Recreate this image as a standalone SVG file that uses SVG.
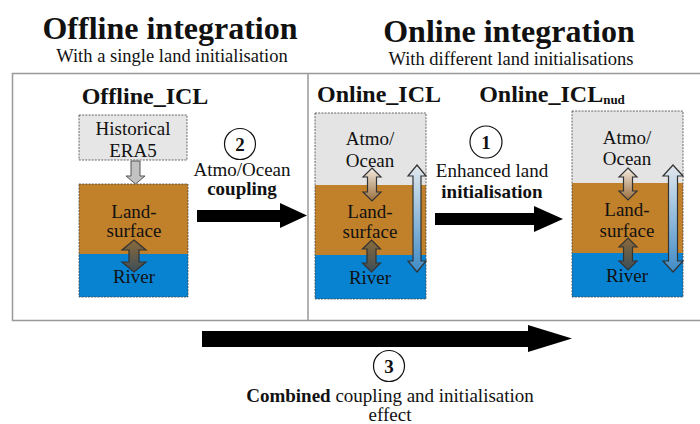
<svg xmlns="http://www.w3.org/2000/svg" width="700" height="424" viewBox="0 0 700 424">
<defs>
<style>
text{font-family:"Liberation Serif","Times New Roman",serif;fill:#111}
.title{font-size:32px;font-weight:bold;text-anchor:middle}
.sub{font-size:18.5px;text-anchor:middle}
.name{font-size:24px;font-weight:bold;text-anchor:middle}
.lbl{font-size:19px;text-anchor:middle}
.b{font-weight:bold}
.frame{fill:none;stroke:#999;stroke-width:1.5}
.box{stroke:#444;stroke-width:0.8;stroke-dasharray:2 1.2}
.atmo{fill:#e4e4e4}
.land{fill:#c1802a}
.river{fill:#0883d1}
.circ{fill:#fff;stroke:#111;stroke-width:1.2}
.big{fill:#000}
.dbl{stroke:#333;stroke-width:1.2}
</style>
<linearGradient id="gAL" x1="0" y1="0" x2="0" y2="1">
<stop offset="0" stop-color="#f4ece2"/><stop offset="1" stop-color="#9b6e3c"/>
</linearGradient>
<linearGradient id="gLR" x1="0" y1="0" x2="0" y2="1">
<stop offset="0" stop-color="#8c6a3a"/><stop offset="1" stop-color="#3c4e58"/>
</linearGradient>
<linearGradient id="gLong" x1="0" y1="0" x2="0" y2="1">
<stop offset="0" stop-color="#e2e8ee"/><stop offset="1" stop-color="#3f8bc6"/>
</linearGradient>
</defs>

<g id="headers">
<text class="title" x="170" y="39">Offline integration</text>
<text class="sub" x="172" y="62">With a single land initialisation</text>
<text class="title" x="509" y="42">Online integration</text>
<text class="sub" x="511" y="65">With different land initialisations</text>
</g>

<g id="frame">
<path class="frame" d="M700,73.5 H12.5 V320.5 H700"/>
<line class="frame" x1="308" y1="73.5" x2="308" y2="320.5"/>
</g>

<g id="offline">
<text class="name" x="145" y="104">Offline_ICL</text>
<rect class="box" x="79" y="115" width="108" height="45" fill="#e6e6e6"/>
<text class="lbl" x="133" y="135">Historical</text>
<text class="lbl" x="133" y="157">ERA5</text>
<path d="M131,161 H140 V176 H145 L135.5,184 L126,176 H131 Z" fill="#c2c2c2" stroke="#555" stroke-width="1"/>
<rect class="land" x="79" y="184" width="109" height="70"/>
<rect class="river" x="79" y="254" width="109" height="43"/>
<rect class="box" x="79" y="184" width="109" height="113" fill="none"/>
<text class="lbl" x="134" y="218">Land-</text>
<text class="lbl" x="134" y="237">surface</text>
<text class="lbl" x="134" y="283">River</text>
<path class="dbl" fill="url(#gLR)" d="M134,240 L146,250 H139 V262 H146 L134,272 L122,262 H129 V250 H122 Z"/>
</g>

<g id="online">
<text class="name" x="379" y="102">Online_ICL</text>
<rect class="atmo" x="315" y="113" width="111" height="72"/>
<rect class="land" x="315" y="185" width="111" height="70"/>
<rect class="river" x="315" y="255" width="111" height="44"/>
<rect class="box" x="315" y="113" width="111" height="186" fill="none"/>
<text class="lbl" x="370" y="145">Atmo/</text>
<text class="lbl" x="370" y="167">Ocean</text>
<text class="lbl" x="370" y="218">Land-</text>
<text class="lbl" x="370" y="238">surface</text>
<text class="lbl" x="370" y="284">River</text>
<path class="dbl" fill="url(#gAL)" d="M372,168 L381,177 H376.5 V192 H381 L372,201 L363,192 H367.5 V177 H363 Z"/>
<path class="dbl" fill="url(#gLR)" d="M371.5,240 L380.5,249 H376 V263 H380.5 L371.5,272 L362.5,263 H367 V249 H362.5 Z"/>
<path class="dbl" fill="url(#gLong)" d="M417,165 L426,176 H421 V261 H426 L417,272 L408,261 H413 V176 H408 Z"/>
</g>

<g id="online-nud">
<text class="name" x="552" y="102" text-anchor="start">Online_ICL<tspan font-size="13" dy="2">nud</tspan></text>
<rect class="atmo" x="572" y="111" width="111" height="72"/>
<rect class="land" x="572" y="183" width="111" height="70"/>
<rect class="river" x="572" y="253" width="111" height="44"/>
<rect class="box" x="572" y="111" width="111" height="186" fill="none"/>
<text class="lbl" x="627" y="144">Atmo/</text>
<text class="lbl" x="627" y="165">Ocean</text>
<text class="lbl" x="627" y="216">Land-</text>
<text class="lbl" x="627" y="237">surface</text>
<text class="lbl" x="627" y="282">River</text>
<path class="dbl" fill="url(#gAL)" d="M628,168 L637,177 H632.5 V191 H637 L628,200 L619,191 H623.5 V177 H619 Z"/>
<path class="dbl" fill="url(#gLR)" d="M628,238 L637,247 H632.5 V261 H637 L628,270 L619,261 H623.5 V247 H619 Z"/>
<path class="dbl" fill="url(#gLong)" d="M673,165 L683,176 H677.5 V261 H683 L673,272 L663,261 H668.5 V176 H663 Z"/>
</g>

<g id="connectors">
<path class="big" d="M197,210 H280 V203 L307,215.5 L280,228 V222 H197 Z"/>
<path class="big" d="M435,213 H534 V206 L563,219 L534,232 V225 H435 Z"/>
<path class="big" d="M202,331 H528 V325 L572,338.5 L528,352 V347 H202 Z"/>
</g>

<g id="label-2">
<circle class="circ" cx="240" cy="144" r="15.5"/>
<text class="lbl b" x="240" y="151">2</text>
<text class="lbl" x="242" y="176">Atmo/Ocean</text>
<text class="lbl b" x="242" y="195">coupling</text>
</g>

<g id="label-1">
<circle class="circ" cx="486" cy="142" r="16"/>
<text class="lbl b" x="486" y="149">1</text>
<text class="lbl" x="492" y="177">Enhanced land</text>
<text class="lbl b" x="492" y="198">initialisation</text>
</g>

<g id="label-3">
<circle class="circ" cx="389" cy="366" r="15.5"/>
<text class="lbl b" x="389" y="373">3</text>
<text class="lbl" x="390" y="402"><tspan class="b">Combined</tspan> coupling and initialisation</text>
<text class="lbl" x="390" y="421">effect</text>
</g>
</svg>
